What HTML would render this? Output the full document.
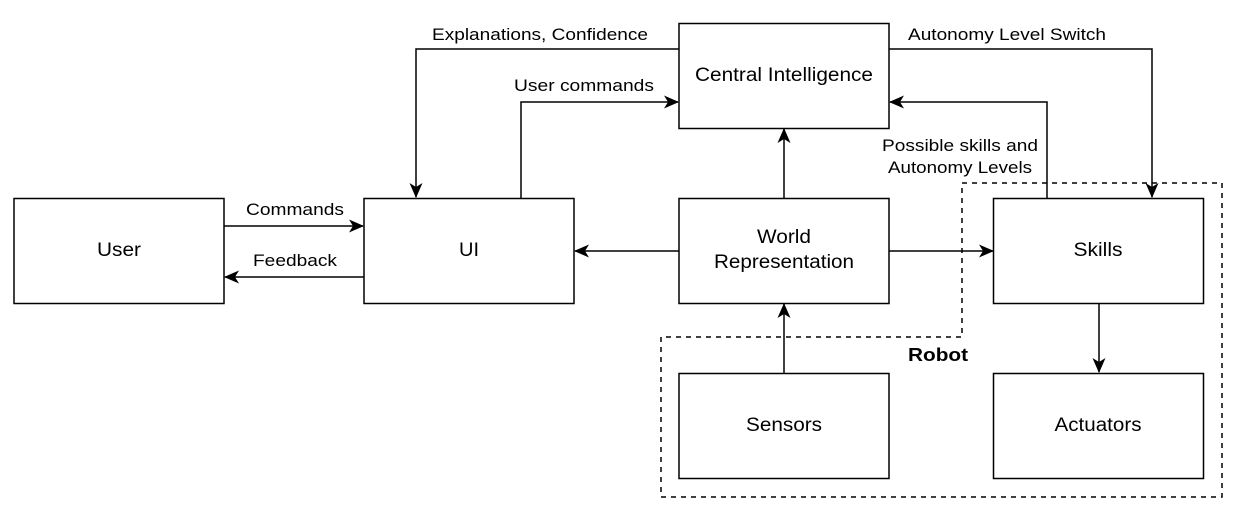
<!DOCTYPE html>
<html><head><meta charset="utf-8"><style>
html,body{margin:0;padding:0;background:#fff;}
svg{display:block;}
text{font-family:"Liberation Sans",sans-serif;fill:#000;}
</style></head><body>
<svg width="1237" height="524" viewBox="0 0 1237 524" xmlns="http://www.w3.org/2000/svg">
<defs>
<marker id="a" markerWidth="15" markerHeight="13" refX="14" refY="6.5" orient="auto" markerUnits="userSpaceOnUse">
<path d="M0,0 L15,6.5 L0,13 L4,6.5 Z" fill="#000"/>
</marker>
</defs>
<path d="M962,183 L1222,183 L1222,497 L661,497 L661,337 L962,337 Z" fill="none" stroke="#000" stroke-width="1.5" stroke-dasharray="5,5"/>
<text x="938" y="361" font-size="18" font-weight="bold" text-anchor="middle" textLength="60" lengthAdjust="spacingAndGlyphs">Robot</text>
<g fill="#fff" stroke="#000" stroke-width="1.5">
<rect x="14" y="198.5" width="210" height="105"/>
<rect x="364" y="198.5" width="210" height="105"/>
<rect x="679" y="23.5" width="210" height="105"/>
<rect x="679" y="198.5" width="210" height="105"/>
<rect x="993.5" y="198.5" width="210" height="105"/>
<rect x="679" y="373.5" width="210" height="105"/>
<rect x="993.5" y="373.5" width="210" height="105"/>
</g>
<g font-size="19" text-anchor="middle" lengthAdjust="spacingAndGlyphs">
<text x="119" y="256" textLength="44" lengthAdjust="spacingAndGlyphs">User</text>
<text x="469" y="256" textLength="20" lengthAdjust="spacingAndGlyphs">UI</text>
<text x="784" y="81" textLength="178" lengthAdjust="spacingAndGlyphs">Central Intelligence</text>
<text x="784" y="243" textLength="54" lengthAdjust="spacingAndGlyphs">World</text>
<text x="784" y="268" textLength="140" lengthAdjust="spacingAndGlyphs">Representation</text>
<text x="1098" y="256" textLength="49" lengthAdjust="spacingAndGlyphs">Skills</text>
<text x="784" y="431" textLength="76" lengthAdjust="spacingAndGlyphs">Sensors</text>
<text x="1098" y="431" textLength="87" lengthAdjust="spacingAndGlyphs">Actuators</text>
</g>
<g fill="none" stroke="#000" stroke-width="1.5" marker-end="url(#a)">
<path d="M224,226 L363,226"/>
<path d="M364,277 L225,277"/>
<path d="M679,49 L416,49 L416,197"/>
<path d="M521,198 L521,102 L678,102"/>
<path d="M784,198 L784,129"/>
<path d="M679,251 L575,251"/>
<path d="M889,251 L993,251"/>
<path d="M889,49 L1152,49 L1152,197"/>
<path d="M1047,198 L1047,102 L890,102"/>
<path d="M1099,303 L1099,372"/>
<path d="M784,373 L784,304"/>
</g>
<g font-size="17" text-anchor="middle">
<text x="295" y="215" textLength="98" lengthAdjust="spacingAndGlyphs">Commands</text>
<text x="295" y="266" textLength="84" lengthAdjust="spacingAndGlyphs">Feedback</text>
<text x="540" y="40" textLength="216" lengthAdjust="spacingAndGlyphs">Explanations, Confidence</text>
<text x="584" y="91" textLength="140" lengthAdjust="spacingAndGlyphs">User commands</text>
<text x="1007" y="40" textLength="198" lengthAdjust="spacingAndGlyphs">Autonomy Level Switch</text>
<text x="960" y="151" textLength="156" lengthAdjust="spacingAndGlyphs">Possible skills and</text>
<text x="960" y="173" textLength="144" lengthAdjust="spacingAndGlyphs">Autonomy Levels</text>
</g>
</svg>
</body></html>
